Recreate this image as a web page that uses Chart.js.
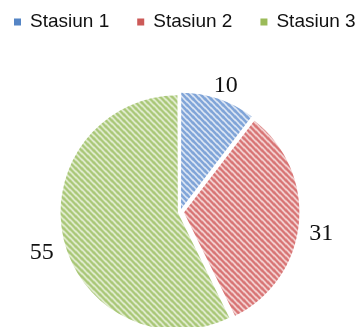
<!DOCTYPE html>
<html>
<head>
<meta charset="utf-8">
<script src="https://cdn.jsdelivr.net/npm/chart.js@4"></script>
<style>
  html, body { margin: 0; padding: 0; background: #fff; overflow: hidden; }
  #wrap { position: relative; width: 356px; height: 335px; }
</style>
</head>
<body>
<div id="wrap"><canvas id="pieChart"></canvas></div>
<script>
const labels = ['Stasiun 1', 'Stasiun 2', 'Stasiun 3'];
const values = [10, 31, 55];
const solidColors = ['#5585C5', '#CC5A58', '#9BBB59'];
const stripeColors = ['#7FA4D8', '#D87474', '#A8C775'];
const backColors = ['#E2EAF6', '#F8E0E0', '#EEF4E3'];

function makeStripes(bg, fg) {
    const c = document.createElement('canvas');
    c.width = 6; c.height = 6;
    const g = c.getContext('2d');
    g.fillStyle = bg;
    g.fillRect(0, 0, 6, 6);
    g.strokeStyle = fg;
    g.lineWidth = 2.6;
    [[-6, 0], [0, 0], [6, 0], [0, -6], [0, 6]].forEach(([ox, oy]) => {
        g.beginPath();
        g.moveTo(ox - 1, oy - 1);
        g.lineTo(ox + 7, oy + 7);
        g.stroke();
    });
    return g.createPattern(c, 'repeat');
}

const ctx = document.getElementById('pieChart').getContext('2d');
const patterns = labels.map((l, i) => makeStripes(backColors[i], stripeColors[i]));

// one-row legend across the top
const topLegend = {
    id: 'topLegend',
    afterDraw(chart) {
        const c = chart.ctx;
        c.save();
        c.font = '19px "Liberation Sans", Arial, sans-serif';
        c.textBaseline = 'middle';
        c.textAlign = 'left';
        let x = 14;
        const y = 22;
        chart.data.labels.forEach((l, i) => {
            c.fillStyle = solidColors[i];
            c.fillRect(x, y - 3.5, 7, 7);
            c.fillStyle = '#111';
            c.fillText(l, x + 16, y);
            x += 16 + c.measureText(l).width + 28;
        });
        c.restore();
    }
};

const valueLabels = {
    id: 'valueLabels',
    afterDatasetsDraw(chart) {
        const c = chart.ctx;
        const meta = chart.getDatasetMeta(0);
        c.save();
        c.font = '24px "Liberation Serif", serif';
        c.fillStyle = '#111';
        c.textAlign = 'center';
        c.textBaseline = 'top';
        meta.data.forEach((arc, i) => {
            const p = arc.getProps(['x', 'y', 'startAngle', 'endAngle', 'outerRadius'], true);
            const mid = (p.startAngle + p.endAngle) / 2;
            const d = p.outerRadius + 27;
            c.fillText(String(values[i]), p.x + Math.cos(mid) * d, p.y + Math.sin(mid) * d - 4);
        });
        c.restore();
    }
};

new Chart(ctx, {
    type: 'pie',
    data: {
        labels: labels,
        datasets: [{
            data: values,
            backgroundColor: patterns,
            borderWidth: 0,
            offset: [13, 16, 9]
        }]
    },
    options: {
        responsive: true,
        maintainAspectRatio: false,
        animation: false,
        layout: { padding: { top: 89, left: 4 } },
        plugins: {
            tooltip: { enabled: false },
            legend: { display: false }
        }
    },
    plugins: [topLegend, valueLabels]
});
</script>
</body>
</html>
